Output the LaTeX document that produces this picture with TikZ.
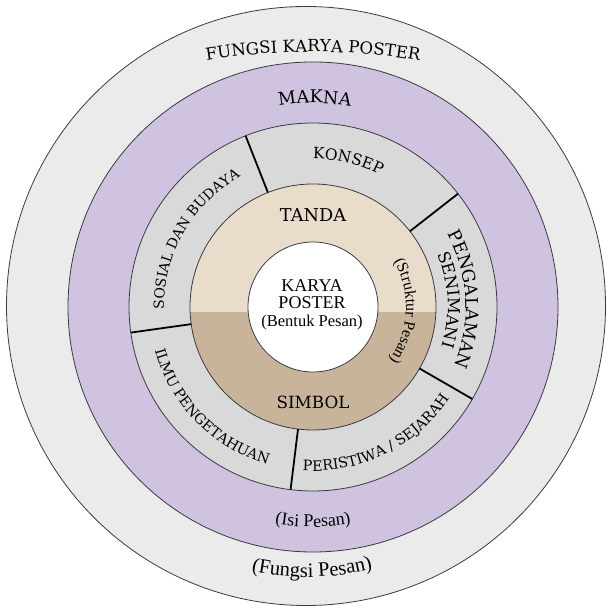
\documentclass[tikz,border=0pt]{standalone}
\usepackage{fontspec}
\setmainfont{Liberation Serif}
\newfontfamily\slabfont{DejaVu Serif}
\usetikzlibrary{decorations.text}
\definecolor{outerring}{HTML}{EBEBEB}
\definecolor{purplering}{HTML}{CFC3DF}
\definecolor{grayring}{HTML}{D9D9D9}
\definecolor{tanlight}{HTML}{E9DCCB}
\definecolor{tandark}{HTML}{C8B49B}
\definecolor{edgecol}{HTML}{3A3A44}
\newcommand{\capsat}[1]{\slabfont\fontsize{#1}{#1}\selectfont}
\newcommand{\parat}[1]{\fontsize{#1}{#1}\selectfont}
\newcommand{\arcTextCW}[5]{%
  \path[decorate,decoration={text along path,text={|#4|#5},text align=center}]
    ([shift={(#3+70:#2)}]#1) arc[start angle=#3+70,end angle=#3-70,radius=#2];}
\newcommand{\arcTextCCW}[5]{%
  \path[decorate,decoration={text along path,text={|#4|#5},text align=center}]
    ([shift={(#3-70:#2)}]#1) arc[start angle=#3-70,end angle=#3+70,radius=#2];}
\tikzset{
  ring/.style={draw=edgecol,line width=0.8pt},
  divider/.style={draw=black,line width=1.8pt},
}
\begin{document}
\begin{tikzpicture}[x=1pt,y=1pt]
\useasboundingbox (0,0) rectangle (607,609);
\fill[white] (0,0) rectangle (607,609);
\coordinate (O) at (306,303);
\coordinate (C) at (313,302);
\coordinate (F) at (313,-93);
% rings
\path[ring,fill=outerring] (O) circle[radius=299.5];
\path[ring,fill=purplering] (C) circle[radius=245];
\path[ring,fill=grayring] (C) circle[radius=184];
\fill[tandark] (C) circle[radius=123];
\begin{scope}
  \clip (0,297) rectangle (607,609);
  \fill[tanlight] (C) circle[radius=123];
\end{scope}
\path[ring] (C) circle[radius=123];
\path[ring,fill=white] (C) circle[radius=65];
% dividers
\foreach \a in {111.5,38,-30,-97,188}
  \draw[divider] ([shift={(\a:123)}]C) -- ([shift={(\a:184)}]C);
% centre texts
\node[align=center,font=\fontsize{18}{17.5}\selectfont] (karya) at (312,304.5)
  {KARYA\\POSTER\\{\fontsize{16.5}{17.5}\selectfont (Bentuk Pesan)}};
\node[font=\capsat{17.7}] (tanda) at (313,394) {TANDA};
\node[font=\capsat{16.8}] (simbol) at (313,207) {SIMBOL};
% curved texts
\arcTextCW{F}{650}{90}{\capsat{16.6}}{FUNGSI KARYA POSTER}
\arcTextCW{C}{204}{89.5}{\capsat{17.6}}{MAKNA}
\arcTextCW{C}{148}{76.5}{\capsat{15.5}}{KONSEP}
\arcTextCW{C}{149}{150}{\capsat{14}}{SOSIAL DAN BUDAYA}
\arcTextCW{C}{153}{3}{\capsat{17.5}}{PENGALAMAN}
\arcTextCW{C}{135}{3}{\capsat{16.5}}{SENIMANI}
\arcTextCCW{C}{164}{224.6}{\capsat{14.3}}{ILMU PENGETAHUAN}
\arcTextCCW{C}{164}{296.3}{\capsat{14.4}}{PERISTIWA / SEJARAH}
\arcTextCW{C}{93}{-2.6}{\parat{16}}{(Struktur Pesan)}
\arcTextCCW{C}{220}{270}{\parat{18}}{(Isi Pesan)}
\arcTextCCW{O}{271}{271.3}{\parat{20.5}}{(Fungsi Pesan)}
\end{tikzpicture}
\end{document}
